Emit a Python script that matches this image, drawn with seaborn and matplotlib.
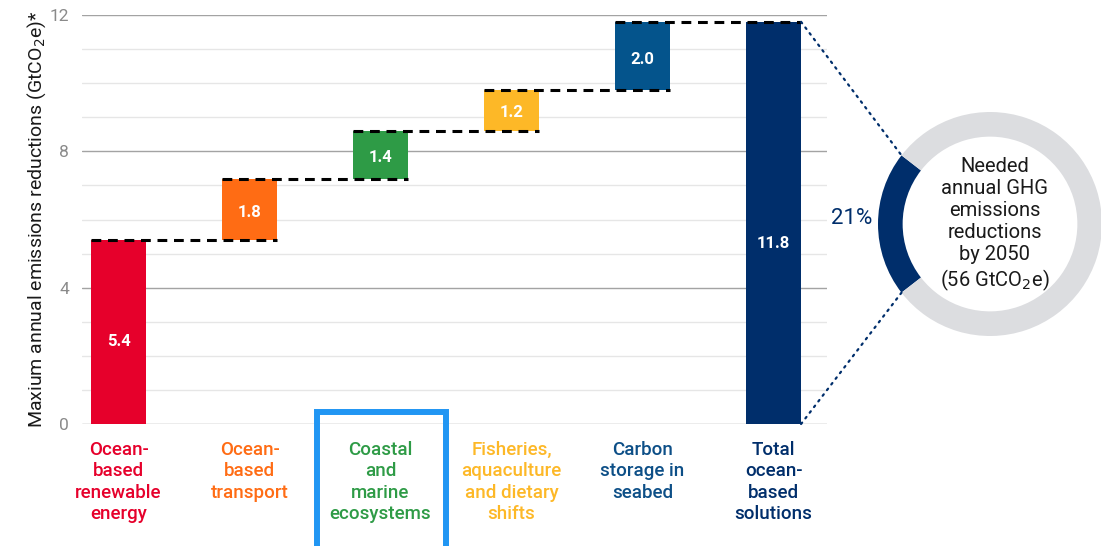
import numpy as np
import matplotlib.pyplot as plt
from matplotlib.patches import ConnectionPatch, Rectangle
import seaborn as sns

sns.set_style("white")
plt.rcParams['font.family'] = ['Roboto', 'DejaVu Sans']

# Data
categories = [
    "Ocean-\nbased\nrenewable\nenergy",
    "Ocean-\nbased\ntransport",
    "Coastal\nand\nmarine\necosystems",
    "Fisheries,\naquaculture\nand dietary\nshifts",
    "Carbon\nstorage in\nseabed",
    "Total\nocean-\nbased\nsolutions",
]
values = [5.4, 1.8, 1.4, 1.2, 2.0, 11.8]
is_total = [False, False, False, False, False, True]
bar_colors = ["#e6002b", "#ff6c14", "#2e9b46", "#fdb827", "#04548c", "#002e6b"]
label_colors = ["#e6002b", "#ff6c14", "#2e9b46", "#fdb827", "#0d4f87", "#002e6b"]
share_pct = [21, 79]
ring_colors = ["#002e6b", "#dcdde0"]
y_ticks = [0, 4, 8, 12]

# waterfall bases
bases = []
running = 0.0
for v, t in zip(values, is_total):
    if t:
        bases.append(0.0)
    else:
        bases.append(running)
        running += v
tops = [b + v for b, v in zip(bases, values)]

fig = plt.figure(figsize=(11.01, 5.46), dpi=100)
ax = fig.add_axes([82 / 1101, 1 - 424 / 546, 745 / 1101, 409 / 546])

# grid
for y in range(0, 13):
    if y in y_ticks:
        continue
    ax.axhline(y, color="#e6e6e6", lw=1, zorder=0)
for y in y_ticks:
    ax.axhline(y, color="#a3a3a3", lw=1, zorder=0.5)

bw = 0.42
sns.barplot(x=list(range(len(values))), y=values, bottom=bases, width=bw,
            color="black", saturation=1, ax=ax, zorder=2)
for patch, c in zip(ax.patches, bar_colors):
    patch.set_facecolor(c)
    patch.set_edgecolor("none")

# value labels
for i, (b, v) in enumerate(zip(bases, values)):
    ax.text(i, b + 0.45 * v, f"{v:.1f}", ha="center", va="center",
            color="white", fontsize=12, fontweight="bold", zorder=3)

# dashed connectors
for i in range(len(values) - 1):
    ax.plot([i - bw / 2, i + 1 + bw / 2], [tops[i], tops[i]],
            color="black", lw=2.2, ls=(0, (3.2, 2.2)), zorder=4,
            solid_capstyle="butt")

ax.set_xlim(-0.279, 5.408)
ax.set_ylim(0, 12)
ax.set_yticks(y_ticks)
ax.set_yticklabels([str(t) for t in y_ticks], color="#8a8a8a", fontsize=12.5)
ax.tick_params(axis="y", length=7.5, width=1, color="#a3a3a3", pad=2)
ax.set_xticks(range(len(categories)))
ax.set_xticklabels(categories, fontsize=13.5, fontweight="medium", linespacing=1.25)
ax.tick_params(axis="x", length=0, pad=12)
for lbl, c in zip(ax.get_xticklabels(), label_colors):
    lbl.set_color(c)
    lbl.set_va("top")
for s in ax.spines.values():
    s.set_visible(False)
ax.set_ylabel("Maxium annual emissions reductions (GtCO$_2$e)*",
              fontsize=14, color="#1a1a1a")
ax.yaxis.set_label_coords(-0.046, 0.5)

# highlight box
fig.patches.append(Rectangle((317 / 1101, -0.05), 128.5 / 1101, (0.05 + 1 - 412 / 546),
                             transform=fig.transFigure, fill=False,
                             edgecolor="#2196f3", lw=4.3))

# donut
pax = fig.add_axes([878 / 1101, 1 - 336 / 546, 224 / 1101, 224 / 546])
half = share_pct[0] / 100 * 360 / 2
pax.pie(share_pct, colors=ring_colors, startangle=180 - half, counterclock=True,
        radius=1, wedgeprops=dict(width=0.22, edgecolor="none"))
pax.set_xlim(-1, 1)
pax.set_ylim(-1, 1)
pax.set_aspect("equal")
pax.set_axis_off()
for w in pax.patches:
    w.set_clip_on(False)

pax.text(0.04, -0.01, "Needed\nannual GHG\nemissions\nreductions\nby 2050\n(56 GtCO$_2$e)",
         ha="center", va="center", fontsize=14.5, color="#1a1a1a", linespacing=1.2)

ang = np.deg2rad(180 - half)
for sign, yv in [(1, tops[-1]), (-1, 0)]:
    con = ConnectionPatch(xyA=(5 + bw / 2, yv), coordsA=ax.transData,
                          xyB=(np.cos(ang), sign * np.sin(ang)), coordsB=pax.transData,
                          color="#002e6b", lw=1.6, ls=(0, (0.8, 2.4)))
    fig.add_artist(con)

fig.text(852 / 1101, 1 - 218 / 546, f"{share_pct[0]}%", ha="center", va="center",
         fontsize=16, color="#002e6b")

plt.savefig("out.png", dpi=100)
plt.close()
